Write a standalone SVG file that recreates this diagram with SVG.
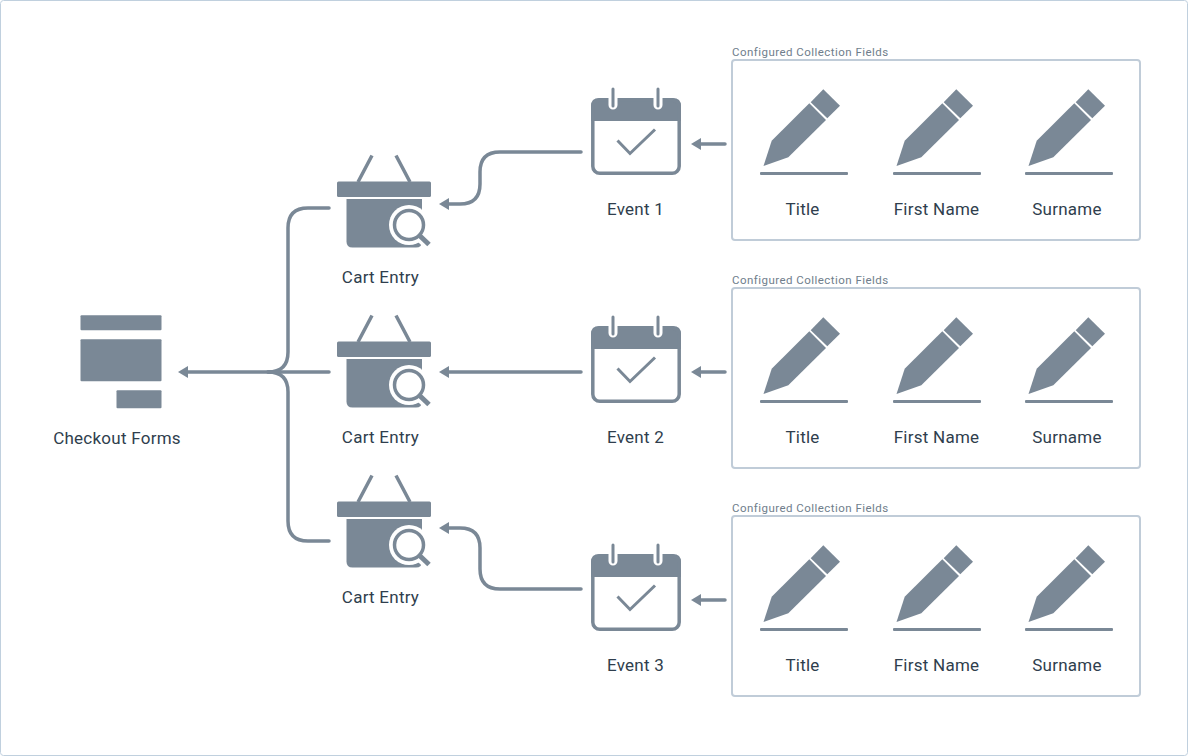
<svg xmlns="http://www.w3.org/2000/svg" width="1188" height="756" viewBox="0 0 1188 756">
<style>
.lbl{font-family:Roboto,"Liberation Sans",sans-serif;font-size:17px;letter-spacing:.25px;fill:#2f3e4d;text-anchor:middle}
.cap{font-family:Roboto,"Liberation Sans",sans-serif;font-size:11.5px;letter-spacing:.46px;fill:#6f7e8c}
.box{fill:#fff;stroke:#c0ccd8;stroke-width:2}
.g{fill:#7a8896}
.ln{fill:none;stroke:#7a8896;stroke-width:3.5;stroke-linecap:round}
</style>
<defs>
<marker id="ah" markerUnits="userSpaceOnUse" markerWidth="12" markerHeight="14" refX="1" refY="7" orient="auto" viewBox="0 0 12 14"><path d="M0 1L10 7L0 13Z" fill="#7a8896"/></marker>
<g id="basket">
<path class="ln" d="M372 155.500L358 182M396 155.500L410 182" style="stroke-linecap:butt"/>
<rect class="g" x="337" y="181.500" width="94" height="15.500" rx="1.500"/>
<path class="g" d="M346.500 199H422V241.500Q422 247.500 416 247.500H352.500Q346.500 247.500 346.500 241.500Z"/>
<circle cx="409" cy="225" r="20" fill="#fff"/>
<path d="M418 236L431 248" fill="none" stroke="#fff" stroke-width="9"/>
<circle cx="409" cy="225" r="14.500" fill="#fff" stroke="#7a8896" stroke-width="3.500"/>
<path d="M419 235L429 244.500" fill="none" stroke="#7a8896" stroke-width="5"/>
</g>
<g id="cal">
<path class="g" d="M599 98H673Q681 98 681 106V121H591V106Q591 98 599 98Z"/>
<rect x="592.800" y="100" width="86.400" height="73.200" rx="7" fill="none" stroke="#7a8896" stroke-width="3.500"/>
<path d="M613 92V105M658 92V105" fill="none" stroke="#fff" stroke-width="9" stroke-linecap="round"/>
<path d="M613 89V106M658 89V106" fill="none" stroke="#7a8896" stroke-width="3" stroke-linecap="round"/>
<path d="M617.500 140.500L630 153.500L655 129.500" fill="none" stroke="#7a8896" stroke-width="3"/>
</g>
<g id="pen">
<path class="g" d="M763.500 166L771.700 140.700L809.300 103.300L826 120L788.300 157.300Z"/>
<path class="g" d="M823.300 89.300L840 105.700L827.300 118.300L810.700 102.300Z"/>
<rect class="g" x="760" y="172" width="88" height="3" rx="1"/>
</g>
</defs>
<rect x=".5" y=".5" width="1187" height="755" rx="3" fill="#fff" stroke="#c0d0de"/>
<g id="connectors">
<path class="ln" d="M329 208H308Q288 208 288 228V352Q288 372 268 372"/>
<path class="ln" d="M329 541H308Q288 541 288 521V392Q288 372 268 372"/>
<path class="ln" d="M329 372H187" marker-end="url(#ah)"/>
<path class="ln" d="M581 152H500Q480 152 480 172V184Q480 204 460 204H448" marker-end="url(#ah)"/>
<path class="ln" d="M581 372H448" marker-end="url(#ah)"/>
<path class="ln" d="M581 589H500Q480 589 480 569V548Q480 528 460 528H448" marker-end="url(#ah)"/>
<path class="ln" d="M725 144H700" marker-end="url(#ah)"/>
<path class="ln" d="M725 372H700" marker-end="url(#ah)"/>
<path class="ln" d="M725 600H700" marker-end="url(#ah)"/>
</g>
<g id="checkout-forms">
<rect class="g" x="80.500" y="315.300" width="81" height="15" rx="1"/>
<rect class="g" x="80.500" y="339.300" width="81" height="42" rx="1"/>
<rect class="g" x="116.500" y="390.300" width="45" height="18" rx="1"/>
<text class="lbl" x="117" y="444">Checkout Forms</text>
</g>
<g id="cart-1"><use href="#basket"/><text class="lbl" x="380.500" y="283">Cart Entry</text></g>
<g id="cart-2"><use href="#basket" y="160"/><text class="lbl" x="380.500" y="443">Cart Entry</text></g>
<g id="cart-3"><use href="#basket" y="320"/><text class="lbl" x="380.500" y="603">Cart Entry</text></g>
<g id="event-1"><use href="#cal"/><text class="lbl" x="635.500" y="215">Event 1</text></g>
<g id="event-2"><use href="#cal" y="228"/><text class="lbl" x="635.500" y="443">Event 2</text></g>
<g id="event-3"><use href="#cal" y="456"/><text class="lbl" x="635.500" y="671">Event 3</text></g>
<g id="fields-1">
<text class="cap" x="732" y="56">Configured Collection Fields</text>
<rect class="box" x="732" y="60" width="408" height="180" rx="3"/>
<use href="#pen"/><use href="#pen" x="133"/><use href="#pen" x="265"/>
<text class="lbl" x="802.500" y="215">Title</text><text class="lbl" x="936.500" y="215">First Name</text><text class="lbl" x="1067" y="215">Surname</text>
</g>
<g id="fields-2">
<text class="cap" x="732" y="284">Configured Collection Fields</text>
<rect class="box" x="732" y="288" width="408" height="180" rx="3"/>
<use href="#pen" y="228"/><use href="#pen" x="133" y="228"/><use href="#pen" x="265" y="228"/>
<text class="lbl" x="802.500" y="443">Title</text><text class="lbl" x="936.500" y="443">First Name</text><text class="lbl" x="1067" y="443">Surname</text>
</g>
<g id="fields-3">
<text class="cap" x="732" y="512">Configured Collection Fields</text>
<rect class="box" x="732" y="516" width="408" height="180" rx="3"/>
<use href="#pen" y="456"/><use href="#pen" x="133" y="456"/><use href="#pen" x="265" y="456"/>
<text class="lbl" x="802.500" y="671">Title</text><text class="lbl" x="936.500" y="671">First Name</text><text class="lbl" x="1067" y="671">Surname</text>
</g>
</svg>
